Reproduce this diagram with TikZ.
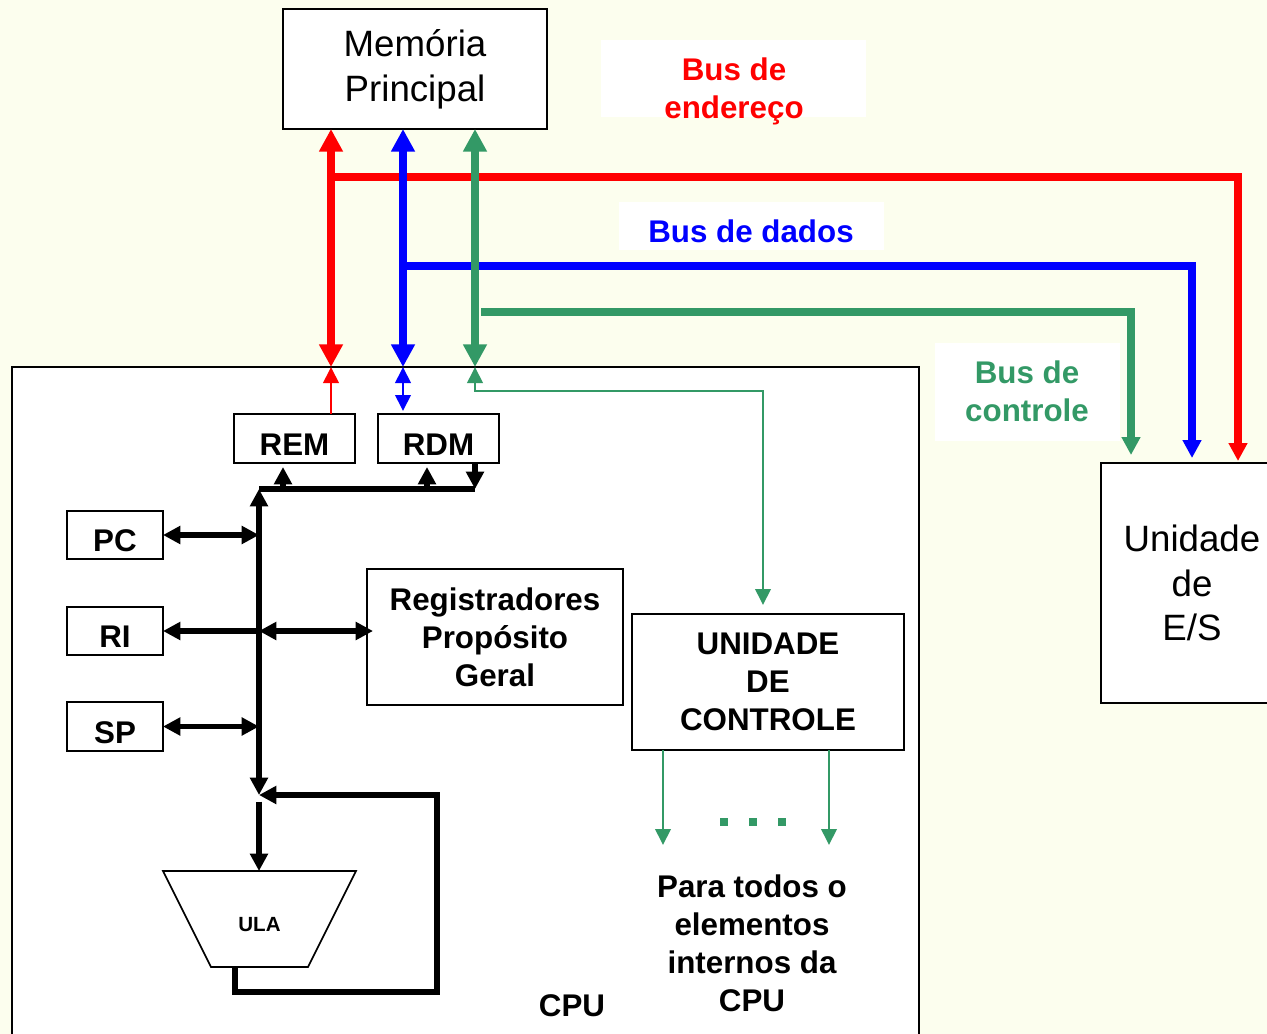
\documentclass[tikz,border=0pt]{standalone}
\usepackage{fontspec}
\setmainfont{Liberation Sans}
\usetikzlibrary{arrows.meta}
\definecolor{paper}{RGB}{252,254,238}
\definecolor{busred}{RGB}{255,0,0}
\definecolor{busblue}{RGB}{0,0,255}
\definecolor{busgreen}{RGB}{51,153,102}
% lower a single-line label inside its box without changing its size
\newcommand\lowtext[2]{\raisebox{-#1}[\height][\depth]{#2}}
\tikzset{
  bigT/.tip={Triangle[length=17pt,width=17pt]},
  midT/.tip={Triangle[length=13.5pt,width=13.5pt]},
  smallT/.tip={Triangle[length=12pt,width=11.5pt]},
  blkT/.tip={Triangle[length=13pt,width=13pt]},
  boxed/.style={draw, fill=white, line width=1.5pt, inner sep=0pt, outer sep=0pt, align=center},
  bglabel/.style={fill=white, inner sep=0pt, outer sep=0pt},
  boldtxt/.style={font=\fontsize{23.5}{28.6}\selectfont\bfseries},
  plaintxt/.style={font=\fontsize{27.5}{33.6}\selectfont},
  busline/.style={line width=5.6pt},
  wire/.style={line width=2pt},
  blkline/.style={line width=4.4pt, black},
}
\begin{document}
\begin{tikzpicture}[x=0.75pt,y=-0.75pt]
\path[use as bounding box] (0,0) rectangle (1267,1034);
\clip (0,0) rectangle (1267,1034);
\fill[paper] (0,0) rectangle (1267,1034);

% main blocks
\node[boxed, minimum width=680.25pt, minimum height=514.5pt] (cpu) at (465.5,710) {};
\node[boxed, plaintxt, minimum width=198pt, minimum height=90pt] (mem) at (415,69) {Memória\\Principal};
\node[boxed, plaintxt, minimum width=136.5pt, minimum height=180pt] (es) at (1192,583) {Unidade\\de\\E/S};

% bus captions on white panels
\node[bglabel, minimum width=198.75pt, minimum height=57.75pt] (bgA) at (733.5,78.5) {};
\node[bglabel, minimum width=198.75pt, minimum height=36pt] (bgD) at (751.5,226) {};
\node[bglabel, minimum width=138.75pt, minimum height=73.5pt] (bgC) at (1027.5,391.5) {};
\node[boldtxt, text=busred, align=center] (lblA) at (734,91) {Bus de\\endereço};
\node[boldtxt, text=busblue] (lblD) at (751,231) {Bus de dados};
\node[boldtxt, text=busgreen, align=center] (lblC) at (1027,391.5) {Bus de\\controle};

% system buses
\coordinate (ra) at (331,177);
\coordinate (rb) at (1238,177);
\coordinate (ba) at (403,266);
\coordinate (bb) at (1192,266);
\coordinate (ga) at (475,312);
\coordinate (gs) at (481,312);
\coordinate (gb) at (1131,312);

\draw[busline, busred, -midT, shorten >=1.5pt] (ra) -- (rb) -- (es.north -| rb);
\draw[busline, busblue, -midT, shorten >=3.75pt] (ba) -- (bb) -- (es.north -| bb);
\draw[busline, busgreen, -midT, shorten >=6pt] (gs) -- (gb) -- (es.north -| gb);

\draw[busline, busred, bigT-bigT] (mem.south -| ra) -- (cpu.north -| ra);
\draw[busline, busblue, bigT-bigT] (mem.south -| ba) -- (cpu.north -| ba);
\draw[busline, busgreen, bigT-bigT] (mem.south -| ga) -- (cpu.north -| ga);

% CPU internals
\node[boxed, boldtxt, minimum width=90.75pt, minimum height=36.75pt] (rem) at (294.5,438.5) {\lowtext{4.5pt}{REM}};
\node[boxed, boldtxt, minimum width=90.75pt, minimum height=36.75pt] (rdm) at (438.5,438.5) {\lowtext{4.5pt}{RDM}};
\node[boxed, boldtxt, minimum width=72pt, minimum height=36pt] (pc) at (115,535) {\lowtext{4pt}{PC}};
\node[boxed, boldtxt, minimum width=72pt, minimum height=36pt] (ri) at (115,631) {\lowtext{4.5pt}{RI}};
\node[boxed, boldtxt, minimum width=72pt, minimum height=36.75pt] (sp) at (115,726.5) {\lowtext{4.5pt}{SP}};
\node[boxed, boldtxt, minimum width=192pt, minimum height=102pt] (reg) at (495,637) {Registradores\\Propósito\\Geral};
\node[boxed, boldtxt, minimum width=204pt, minimum height=102pt] (uc) at (768,682) {UNIDADE\\DE\\CONTROLE};

% ALU: inverted trapezium drawn from the corners of its frame node
\node[inner sep=0pt, outer sep=0pt, minimum width=144.75pt, minimum height=72pt] (ula) at (259.5,919) {};
\draw[fill=white, line width=1.2pt] (ula.north west) -- (ula.north east)
  -- ([xshift=-36pt]ula.south east) -- ([xshift=36pt]ula.south west) -- cycle;
\node[inner sep=0pt, font=\fontsize{15.4}{18}\selectfont\bfseries] (ulatxt) at (ula.center) {\lowtext{4.5pt}{ULA}};

% links from the CPU border to REM, RDM and the control unit
\coordinate (gt) at (763,391);
\draw[wire, busred, -smallT] (rem.north -| ra) -- (cpu.north -| ra);
\draw[wire, busblue, smallT-smallT, shorten >=2.25pt] (cpu.north -| ba) -- (rdm.north -| ba);
\draw[wire, busgreen, smallT-smallT, shorten >=6.75pt] (cpu.north -| ga) |- (gt) -- (uc.north -| gt);

% internal data bus
\coordinate (bt) at (259,489);
\coordinate (be) at (475,489);
\coordinate (fj) at (259,795);
\coordinate (ru) at (283,489);
\coordinate (du) at (427,489);
\draw[blkline] (bt) -- (be);
\draw[blkline, blkT-blkT] (bt) -- (fj);
\draw[blkline, -blkT, shorten >=3pt] (ru) -- (rem.south -| ru);
\draw[blkline, -blkT, shorten >=3pt] (du) -- (rdm.south -| du);
\draw[blkline, -blkT] (rdm.south -| be) -- (be);

\draw[blkline, blkT-blkT] (pc.east) -- (pc.east -| bt);
\draw[blkline, blkT-blkT] (sp.east) -- (sp.east -| bt);
\draw[blkline, -blkT] (ri.east -| bt) -- (ri.east);
\draw[blkline, blkT-blkT, shorten >=-4.5pt] (ri.east -| bt) -- (reg.west |- ri.east);

% ALU input and result feedback
\coordinate (fl) at (235,992);
\coordinate (fr) at (437,992);
\draw[blkline, -blkT] ([yshift=-5pt]fj) -- (ula.north -| fj);
\draw[blkline, -blkT] (ula.south -| fl) -- (fl) -- (fr) |- (fj);

% control unit outputs
\coordinate (o1) at (663,845);
\coordinate (o2) at (829,845);
\draw[wire, busgreen, -smallT] (uc.south -| o1) -- (o1);
\draw[wire, busgreen, -smallT] (uc.south -| o2) -- (o2);
\foreach \x in {724,753,782} \fill[busgreen] (\x-4,818) rectangle (\x+4,826);

\node[boldtxt, align=center] (dest) at (752,943.5) {Para todos o\\elementos\\internos da\\CPU};
\node[boldtxt] (cpulbl) at (572,1006) {CPU};
\end{tikzpicture}
\end{document}
